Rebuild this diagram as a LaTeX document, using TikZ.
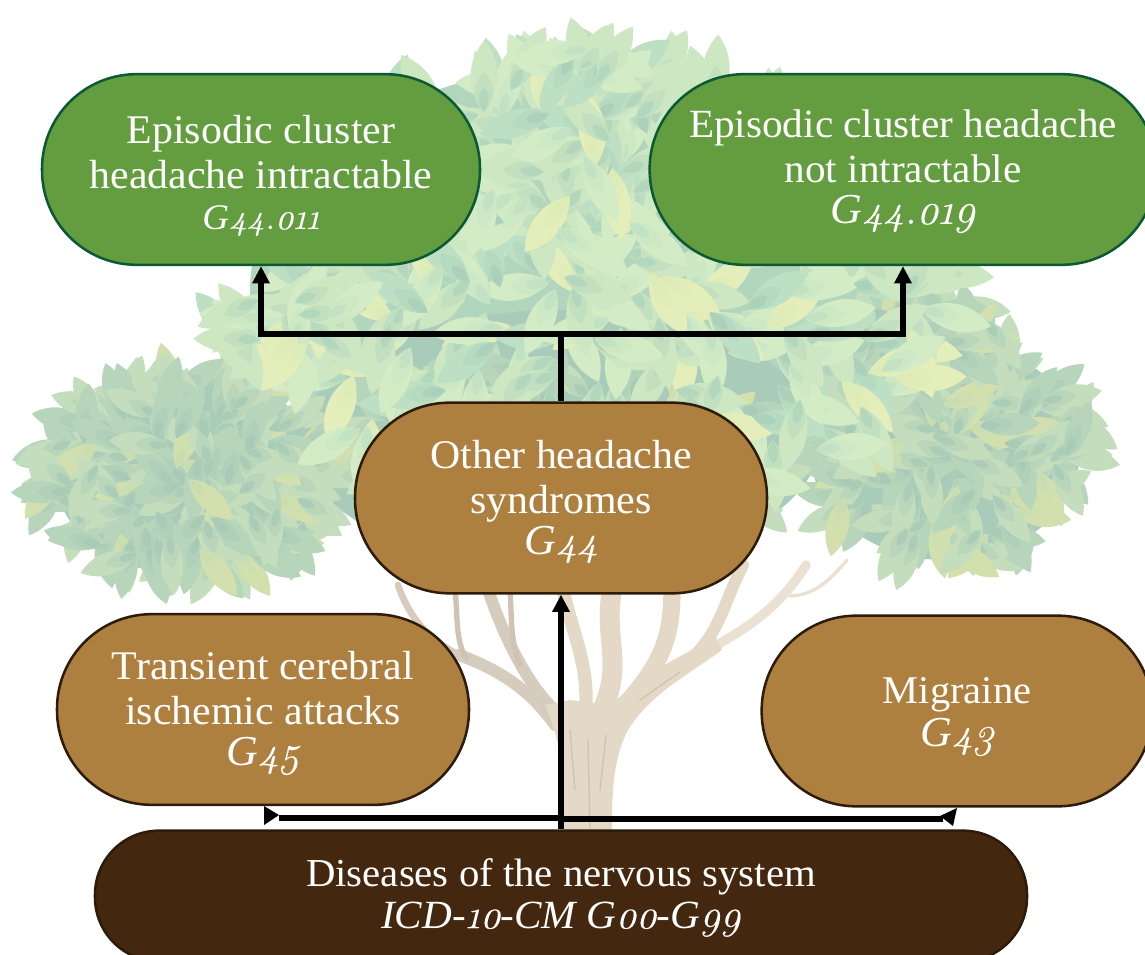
\documentclass[tikz,border=0pt]{standalone}
\usepackage{fontspec}
\setmainfont{Liberation Serif}[FakeStretch=1.03]
\newfontfamily\codefont{Latin Modern Roman}[Numbers=OldStyle,FakeBold=0.15]
\usetikzlibrary{arrows.meta}
\definecolor{grnfill}{HTML}{639D3F}
\definecolor{grnline}{HTML}{0B5A33}
\definecolor{brnfill}{HTML}{AE8040}
\definecolor{brnline}{HTML}{2E1C0B}
\definecolor{drkfill}{HTML}{43270F}
\definecolor{trunkA}{HTML}{E4D8C6}
\definecolor{trunkB}{HTML}{D6CCBE}
\definecolor{trunkC}{HTML}{EBE1D2}
\definecolor{trunkD}{HTML}{CFC3B3}
\definecolor{baseA}{HTML}{B2D5BE}
\definecolor{baseB}{HTML}{A9CBBA}
\definecolor{la1}{HTML}{AED4BC}\definecolor{la2}{HTML}{CDE7C2}
\definecolor{lb1}{HTML}{BFE0C2}\definecolor{lb2}{HTML}{D3ECC6}
\definecolor{lc1}{HTML}{DCEAB8}\definecolor{lc2}{HTML}{E4EEBA}
\definecolor{ld1}{HTML}{A9CFB9}\definecolor{ld2}{HTML}{BDDFC4}
\definecolor{le1}{HTML}{A7CAB7}\definecolor{le2}{HTML}{C3DDBD}
\definecolor{lf1}{HTML}{A5C8B6}\definecolor{lf2}{HTML}{B7D5BA}
\definecolor{lg1}{HTML}{C9DCB2}\definecolor{lg2}{HTML}{D2E0AE}
\pgfmathdeclarerandomlist{toplist}{{la}{la}{lb}{lb}{la}{lb}{ld}{lc}}
\pgfmathdeclarerandomlist{sidelist}{{le}{le}{lf}{lf}{le}{le}{lf}{lg}}
\newcommand\leafdraw[5]{%
  \begin{scope}[shift={(#1,#2)},rotate=#3,scale=#4]
    \fill[#52] (-30,0) .. controls (-12,15) and (12,15) .. (30,0) .. controls (12,-15) and (-12,-15) .. (-30,0) -- cycle;
    \fill[#51!35!#52] (-30,0) .. controls (-18,11) and (-6,9) .. (4,0) .. controls (-6,-9) and (-18,-11) .. (-30,0) -- cycle;
    \fill[#51!85!#52] (-30,0) .. controls (-22,6) and (-14,5) .. (-10,0) .. controls (-14,-5) and (-22,-6) .. (-30,0) -- cycle;
  \end{scope}}
\newcommand\leafcluster[7]{%
  \foreach \i in {1,...,#5}{%
    \pgfmathsetmacro\rr{sqrt(rnd)}%
    \pgfmathsetmacro\th{rnd*360}%
    \pgfmathsetmacro\xx{#1+#3*\rr*cos(\th)}%
    \pgfmathsetmacro\yy{#2+#4*\rr*sin(\th)}%
    \pgfmathsetmacro\aa{-\th+rnd*110-55}%
    \pgfmathrandomitem\sh{#7}%
    \leafdraw{\xx}{\yy}{\aa}{#6}{\sh}%
  }}
\tikzset{
  pill/.style={rectangle,rounded corners=71pt,line width=1.9pt,text=white,align=center,inner sep=0pt},
  greenpill/.style={pill,draw=grnline,fill=grnfill},
  brownpill/.style={pill,draw=brnline,fill=brnfill},
  darkpill/.style={pill,draw=brnline,fill=drkfill,rounded corners=48pt},
  link/.style={line width=4.2pt,draw=black},
  lowlink/.style={line width=3.8pt,draw=black},
  tip/.style={link,-{Triangle[length=13pt,width=12.5pt]}},
  flattip/.style={fill=black},
  bough/.style={line cap=round,line join=round}
}
\newcommand\fs[1]{\fontsize{#1}{33.75}\selectfont}
% letters of a code in the main italic, its figures old-style
\newcommand\nm[1]{{\codefont\itshape #1}}
\newcommand\code[2][31]{{\fs{#1}\itshape #2}}
\newcommand\lift[1]{\rule{0pt}{#1pt}}
\begin{document}
\begin{tikzpicture}[x=0.75pt,y=-0.75pt]
\useasboundingbox (0,0) rectangle (1145,955);
\clip (0,0) rectangle (1145,955);
% trunk and boughs
\begin{scope}[bough]
  \draw[trunkB,line width=9pt] (555,725) .. controls (530,690) and (500,670) .. (459,655);
  \draw[trunkB,line width=5pt] (459,655) .. controls (430,640) and (410,620) .. (398,585);
  \draw[trunkD,line width=4pt] (466,658) .. controls (455,640) and (458,615) .. (455,590);
  \draw[trunkB,line width=9pt] (560,715) .. controls (530,690) and (505,640) .. (488,590);
  \draw[trunkD,line width=4pt] (520,665) .. controls (510,640) and (512,620) .. (510,590);
  \draw[trunkA,line width=10pt] (585,715) .. controls (590,670) and (575,640) .. (564,595);
  \draw[trunkA,line width=15pt] (600,715) .. controls (625,665) and (603,640) .. (612,590);
  \draw[trunkA,line width=13pt] (625,705) .. controls (660,665) and (672,640) .. (672,590);
  \draw[trunkA,line width=9pt] (695,655) .. controls (720,630) and (725,600) .. (743,565);
  \draw[trunkC,line width=7pt] (690,660) .. controls (735,635) and (775,615) .. (806,565);
  \draw[trunkC,line width=2.5pt] (790,596) .. controls (815,595) and (830,580) .. (847,560);
  \fill[trunkA] (563,830) .. controls (566,780) and (562,745) .. (545,705)
     -- (570,700) -- (610,705) -- (640,680) .. controls (670,660) and (695,650) .. (715,635)
     -- (722,650) .. controls (680,680) and (650,695) .. (628,730)
     .. controls (612,760) and (612,800) .. (612,830) -- cycle;
  \draw[trunkD,line width=1pt] (590,830) -- (588,740) (600,790) -- (606,735) (575,790) -- (570,730) (640,700) -- (680,672);
\end{scope}
% canopy
\fill[baseB] (190,475) ellipse [x radius=135,y radius=100];
\fill[baseB] (945,450) ellipse [x radius=135,y radius=110];
\fill[baseA] (595,290) ellipse [x radius=345,y radius=225];
\fill[baseB] (560,440) ellipse [x radius=260,y radius=130];
\pgfmathsetseed{4711}
\leafcluster{195}{475}{160}{105}{190}{1}{sidelist}
\leafcluster{945}{450}{150}{118}{210}{1}{sidelist}
\leafcluster{920}{345}{85}{55}{35}{1}{sidelist}
\leafcluster{560}{460}{245}{105}{90}{1.05}{sidelist}
\leafcluster{595}{290}{365}{240}{360}{1.2}{toplist}
\leafcluster{290}{320}{85}{50}{30}{1.1}{toplist}
\leafcluster{585}{150}{150}{110}{70}{1.2}{toplist}
\leafcluster{585}{68}{45}{22}{14}{1.1}{toplist}
% nodes
\node[greenpill,font=\fs{30.5},minimum width=328.5pt,minimum height=143pt] (A) at (261,169.5)
  {\lift{30}Episodic cluster\\headache intractable\\[-3pt]\code[27]{G\nm{44.011}}};
\node[greenpill,font=\fs{30},minimum width=380pt,minimum height=143pt] (B) at (903,169.5)
  {\lift{24}Episodic cluster headache\\not intractable\\[-3pt]\code[32]{G\nm{44.019}}};
\node[brownpill,font=\fs{30.5},minimum width=309pt,minimum height=143pt] (C) at (561,498)
  {\lift{27}Other headache\\syndromes\\[-3pt]\code[32]{G\nm{44}}};
\node[brownpill,font=\fs{30.5},minimum width=309pt,minimum height=143pt] (D) at (263,709.5)
  {\lift{27}Transient cerebral\\ischemic attacks\\[-3pt]\code[32]{G\nm{45}}};
\node[brownpill,font=\fs{29.5},minimum width=293pt,minimum height=143pt] (E) at (957,711)
  {\lift{28.5}Migraine\\[-1.5pt]\code[32]{G\nm{43}}};
\node[darkpill,font=\fs{29.7},minimum width=699pt,minimum height=98pt] (F) at (561,896)
  {\lift{23.3}Diseases of the nervous system\\[-2.25pt]\code[30]{ICD-\nm{10}-CM G\nm{00}-G\nm{99}}};
% connectors
\coordinate (upj) at (561,334);
\coordinate (lowl) at (279,818);
\coordinate (lowr) at (943,819);
\draw[link] (C.north) -- (upj);
\draw[tip] (upj) -| (A.south);
\draw[tip] (upj) -| (B.south);
\draw[tip] (F.north) -- (C.south);
\draw[lowlink] (lowl) -- (lowl -| F.north);
\draw[lowlink] (lowr) -- (lowr -| F.north);
\fill[flattip] (264,806) -- (264,825) -- (279,815) -- cycle;
\fill[flattip] (957,808) -- (953,826) -- (940,816) -- cycle;
\end{tikzpicture}
\end{document}
